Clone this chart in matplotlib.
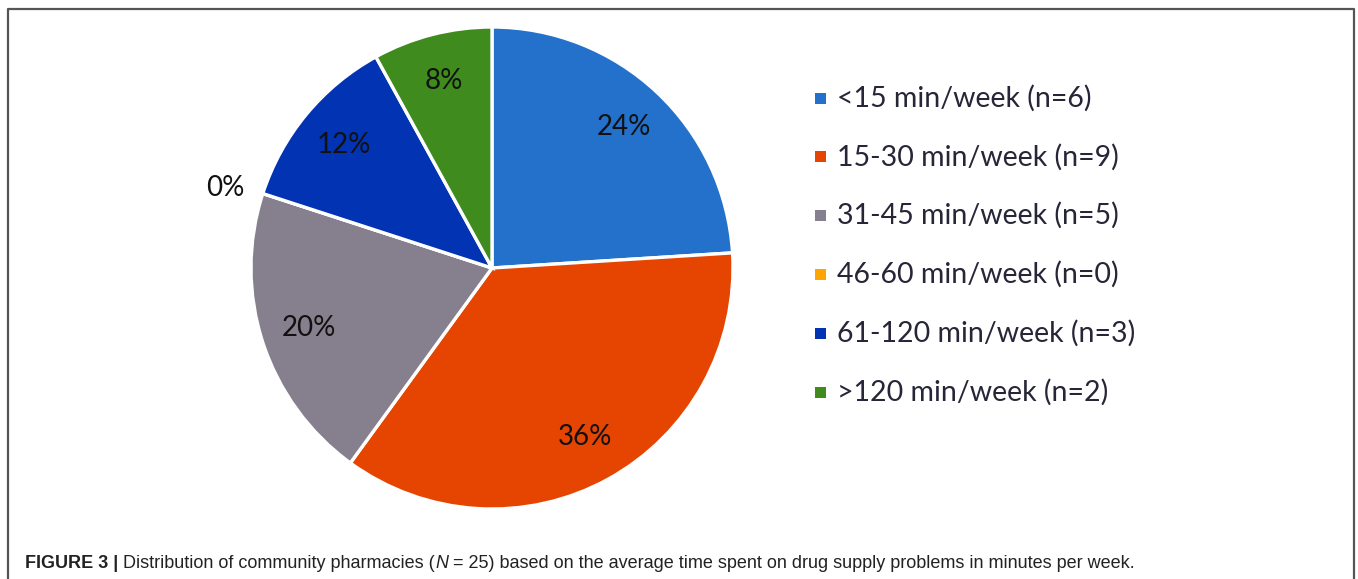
import matplotlib
matplotlib.use("Agg")
import matplotlib.pyplot as plt
from matplotlib.patches import Rectangle
import numpy as np

# Pharmacies by weekly time spent on drug supply problems (N = 25)
categories = ["<15 min/week", "15-30 min/week", "31-45 min/week",
              "46-60 min/week", "61-120 min/week", ">120 min/week"]
counts = [6, 9, 5, 0, 3, 2]
colors = ["#2371CA", "#E54500", "#857F8E", "#FFA500", "#0133B2", "#3F8B1E"]
# caption pieces: (text, weight, style)
caption_parts = [
    ("FIGURE 3 |", "bold", "normal"),
    (" Distribution of community pharmacies (", "normal", "normal"),
    ("N", "normal", "italic"),
    (" = 25) based on the average time spent on drug supply problems in minutes per week.",
     "normal", "normal"),
]

W, H = 1358, 579
fig = plt.figure(figsize=(W / 100, H / 100), dpi=100)
fig.patch.set_facecolor("white")

# outer frame (open at the bottom)
frame = fig.add_axes([0, 0, 1, 1], zorder=-1)
frame.set_xlim(0, W)
frame.set_ylim(H, 0)
frame.axis("off")
frame.plot([8, 8, 1354, 1354], [H, 9, 9, H], color="#555555", lw=1.6)

# pie
cx, cy, r = 492, 268, 241
ax = fig.add_axes([(cx - r) / W, (H - cy - r) / H, 2 * r / W, 2 * r / H])
total = sum(counts)
wedges, _ = ax.pie(counts, colors=colors, startangle=90, counterclock=False,
                   wedgeprops=dict(edgecolor="white", linewidth=2.4), radius=1.0)
ax.set_xlim(-1, 1)
ax.set_ylim(-1, 1)
ax.set_aspect("equal")
ax.axis("off")

label_font = dict(family=["Lato", "DejaVu Sans"], fontsize=20, color="#111111")
angle = 90.0
for n in counts:
    span = 360.0 * n / total
    mid = np.deg2rad(angle - span / 2)
    dist = 0.8 if n > 0 else 1.08
    ha = "center" if n > 0 else "right"
    ax.text(dist * np.cos(mid), dist * np.sin(mid), f"{round(100 * n / total)}%",
            ha=ha, va="center", **label_font)
    angle -= span

# legend
leg_x, leg_y0, leg_dy = 815, 98, 58.8
for i, (cat, n, c) in enumerate(zip(categories, counts, colors)):
    y = leg_y0 + i * leg_dy
    frame.add_patch(Rectangle((leg_x, y - 5.5), 11, 11, facecolor=c, edgecolor="none"))
    frame.text(leg_x + 22, y, f"{cat} (n={n})", ha="left", va="center",
               family=["Lato", "DejaVu Sans"], fontsize=20.5, color="#262638")

# caption
cap_font = ["Liberation Sans Narrow", "Liberation Sans", "DejaVu Sans"]
renderer = fig.canvas.get_renderer()
x = 25
for txt, weight, style in caption_parts:
    t = frame.text(x, 564, txt, ha="left", va="center", fontsize=13,
                   fontweight=weight, fontstyle=style, family=cap_font, color="#222222")
    bb = t.get_window_extent(renderer)
    x += bb.width

fig.savefig("out.png", dpi=100)
